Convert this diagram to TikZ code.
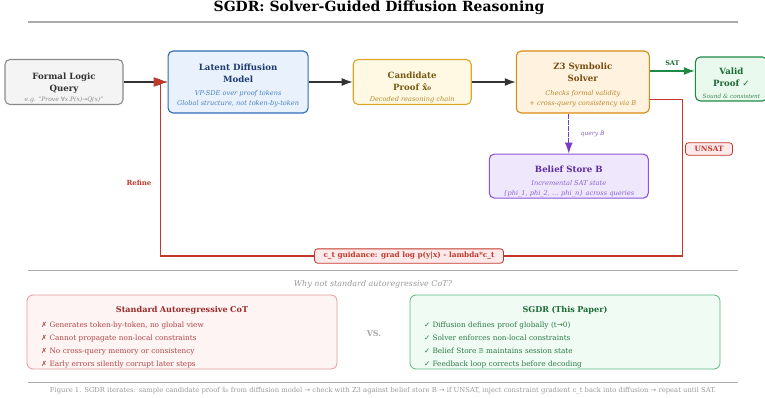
\documentclass[tikz,border=0pt]{standalone}
\usepackage{fontspec}
\setmainfont{DejaVu Serif}
\newfontfamily\symfont{DejaVu Sans}
\usepackage{amssymb}
\usepackage{xcolor}
\usetikzlibrary{arrows.meta,positioning,calc}

\definecolor{arrowc}{HTML}{333333}
\definecolor{rulec}{HTML}{AAAAAA}
\definecolor{qdraw}{HTML}{8A8A8A}
\definecolor{qfill}{HTML}{F4F4F5}
\definecolor{qtext}{HTML}{333333}
\definecolor{qsub}{HTML}{8A8A8A}
\definecolor{ldmdraw}{HTML}{2E6BB5}
\definecolor{ldmfill}{HTML}{E8F1FC}
\definecolor{ldmtext}{HTML}{1E3A6E}
\definecolor{ldmsub}{HTML}{4A80C4}
\definecolor{canddraw}{HTML}{D9A82A}
\definecolor{candfill}{HTML}{FFF9E3}
\definecolor{candtext}{HTML}{7A5810}
\definecolor{candsub}{HTML}{B08A30}
\definecolor{z3draw}{HTML}{D68A14}
\definecolor{z3fill}{HTML}{FFF3E0}
\definecolor{z3text}{HTML}{7A4A10}
\definecolor{z3sub}{HTML}{B8862A}
\definecolor{okdraw}{HTML}{1E8A45}
\definecolor{okfill}{HTML}{E9F9EE}
\definecolor{oktext}{HTML}{1A6A35}
\definecolor{oksub}{HTML}{3A8A55}
\definecolor{redc}{HTML}{C0392B}
\definecolor{redfill}{HTML}{FDE9E9}
\definecolor{bsdraw}{HTML}{8A55D6}
\definecolor{bsfill}{HTML}{EFE8FD}
\definecolor{bstext}{HTML}{5A2AA0}
\definecolor{bssub}{HTML}{8A60D0}
\definecolor{bsline}{HTML}{7A3AC8}
\definecolor{ardraw}{HTML}{E39A9A}
\definecolor{arfill}{HTML}{FEF4F4}
\definecolor{artext}{HTML}{9A2A2A}
\definecolor{aritem}{HTML}{B04545}
\definecolor{sgdraw}{HTML}{5AB878}
\definecolor{sgfill}{HTML}{F0FBF3}
\definecolor{sgtext}{HTML}{1A6A35}
\definecolor{sgitem}{HTML}{2A7A45}

% optional argument: strut height, pushes the text down in its box
\newcommand{\hd}[2][0pt]{{\fontsize{8.6}{10}\selectfont\bfseries\rule{0pt}{#1}#2}}
\newcommand{\ex}[2]{{\fontsize{6.6}{8}\selectfont\itshape\color{#1}#2}}
\newcommand{\xm}{{\symfont ✗}}
\newcommand{\ck}{{\symfont ✓}}

\tikzset{
  >={Latex[length=11pt,width=8pt]},
  stage/.style={draw, rounded corners=5pt, line width=1.1pt, align=center, inner sep=1pt, font=\fontsize{6.6}{10}\selectfont},
  qbox/.style={stage, draw=qdraw, fill=qfill, text=qtext, minimum width=118pt, minimum height=45pt},
  ldm/.style={stage, draw=ldmdraw, fill=ldmfill, text=ldmtext, minimum width=140pt, minimum height=62pt},
  cand/.style={stage, draw=canddraw, fill=candfill, text=candtext, minimum width=118pt, minimum height=45pt},
  solver/.style={stage, draw=z3draw, fill=z3fill, text=z3text, minimum width=133pt, minimum height=62pt},
  valid/.style={stage, draw=okdraw, fill=okfill, text=oktext, minimum width=72pt, minimum height=44pt},
  belief/.style={stage, draw=bsdraw, fill=bsfill, text=bstext, minimum width=159pt, minimum height=44pt},
  tag/.style={draw, rounded corners=3pt, line width=0.8pt, inner sep=3.5pt, font=\fontsize{7.3}{9}\selectfont\bfseries},
  flow/.style={->, line width=1.3pt, draw=arrowc},
  loop/.style={line width=1.1pt, draw=redc},
  cmp/.style={draw, rounded corners=6pt, line width=0.8pt, minimum width=310pt, minimum height=74pt, text width=282pt, inner ysep=1pt, align=left, font=\fontsize{7.3}{13}\selectfont},
}

\begin{document}
\begin{tikzpicture}[x=1pt, y=1pt]
  \useasboundingbox (0,0) rectangle (765,-398);

  \node[font=\bfseries\fontsize{14}{15}\selectfont, text=black] (title) at (379,-8) {SGDR: Solver-Guided Diffusion Reasoning};
  \draw[rulec, line width=1.5pt] (28,-22) -- (738,-22);

  % main pipeline
  \node[qbox] (query) at (64,-82) {\hd[18pt]{Formal Logic}\\[2pt]\hd{Query}\\{\fontsize{6}{7}\selectfont\itshape\color{qsub}e.g. "Prove {\symfont ∀}x.P(x){\symfont →}Q(x)"}};
  \node[ldm, right=44pt of query] (ldm) {\hd[12.5pt]{Latent Diffusion}\\[2pt]\hd{Model}\\[3pt]\ex{ldmsub}{VP-SDE over proof tokens}\\\ex{ldmsub}{Global structure, not token-by-token}};
  \node[cand, right=44pt of ldm] (cand) {\hd[18pt]{Candidate}\\[2pt]\hd{Proof x̂₀}\\[1pt]\ex{candsub}{Decoded reasoning chain}};
  \node[solver, right=44pt of cand] (z3) {\hd[12pt]{Z3 Symbolic}\\[2pt]\hd{Solver}\\[4pt]\ex{z3sub}{Checks formal validity}\\\ex{z3sub}{+ cross-query consistency via B}};
  \node[valid, right=45pt of z3, yshift=3pt] (valid) {\hd[14.5pt]{Valid}\\[2pt]\hd{Proof {\symfont ✓}}\\[2pt]{\fontsize{5.8}{7}\selectfont\itshape\color{oksub}Sound \& consistent}};
  \node[belief, below=40pt of z3.south west, anchor=north west, xshift=-27pt] (bs) {\hd[16.5pt]{Belief Store B}\\[3pt]\ex{bssub}{Incremental SAT state}\\\ex{bssub}{\{phi\_1, phi\_2, ... phi\_n\} across queries}};

  \node[tag, draw=redc, fill=redfill, text=redc, inner xsep=9pt] (guide) at (409,-256) {c\_t guidance: grad log p(y|x) - lambda*c\_t};
  \node[tag, draw=redc, fill=redfill, text=redc, inner xsep=9pt] (unsat) at (709,-149) {UNSAT};
  \node[font=\fontsize{7}{8}\selectfont\bfseries, text=redc] (refine) at (139,-183) {Refine};

  \draw[flow] (query) -- (ldm);
  \draw[flow] (ldm) -- (cand);
  \draw[flow] (cand) -- (z3);
  \draw[->, line width=1.3pt, draw=okdraw, fill=okdraw] ([yshift=11pt]z3.east) -- ([yshift=11pt]z3.east -| valid.west)
    node[midway, above=1pt, font=\fontsize{6.5}{7}\selectfont\bfseries, text=oktext] {SAT};
  \draw[->, line width=1.1pt, draw=bsline, dash pattern=on 5pt off 1pt] (z3.south -| bs.north) -- (bs.north)
    node[midway, right=8pt, font=\fontsize{6}{7}\selectfont\itshape, text=bssub] {query B};

  % refine loop
  \coordinate (back) at ([xshift=-7pt]ldm.west);
  \draw[loop] ([yshift=14pt]z3.south east) -- ++(33pt,0) |- (guide.east);
  \draw[loop] (guide.west) -| (back);
  \draw[loop, ->, >={Latex[length=14pt,width=10pt]}] ([xshift=-14pt]ldm.west) -- (ldm.west);

  \draw[rulec, line width=0.8pt] (28,-270) -- (738,-270);
  \node[font=\fontsize{8}{9}\selectfont\itshape, text=gray!80] (why) at (373,-284) {Why not standard autoregressive CoT?};

  % comparison
  \node[cmp, draw=ardraw, fill=arfill, text=aritem] (ar) at (182,-332)
    {{\centering\fontsize{8.1}{13}\selectfont\bfseries\color{artext}\rule{0pt}{16pt}Standard Autoregressive CoT\par}\vspace{2pt}
     \xm\ Generates token-by-token, no global view\\
     \xm\ Cannot propagate non-local constraints\\
     \xm\ No cross-query memory or consistency\\
     \xm\ Early errors silently corrupt later steps};
  \node[font=\fontsize{8}{9}\selectfont\bfseries, text=gray!70] (vs) at (374,-334) {VS.};
  \node[cmp, draw=sgdraw, fill=sgfill, text=sgitem] (sgdr) at (565,-332)
    {{\centering\fontsize{8.1}{13}\selectfont\bfseries\color{sgtext}\rule{0pt}{16pt}SGDR (This Paper)\par}\vspace{2pt}
     \ck\ Diffusion defines proof globally (t{\symfont →}0)\\
     \ck\ Solver enforces non-local constraints\\
     \ck\ Belief Store $\mathbb{B}$ maintains session state\\
     \ck\ Feedback loop corrects before decoding};

  \draw[rulec, line width=0.8pt] (28,-382) -- (738,-382);
  \node[font=\fontsize{6.8}{7}\selectfont, text=gray!80] (caption) at (383,-391)
    {Figure 1. SGDR iterates: sample candidate proof x̂₀ from diffusion model {\symfont →} check with Z3 against belief store B {\symfont →} if UNSAT, inject constraint gradient c\_t back into diffusion {\symfont →} repeat until SAT.};
\end{tikzpicture}
\end{document}
